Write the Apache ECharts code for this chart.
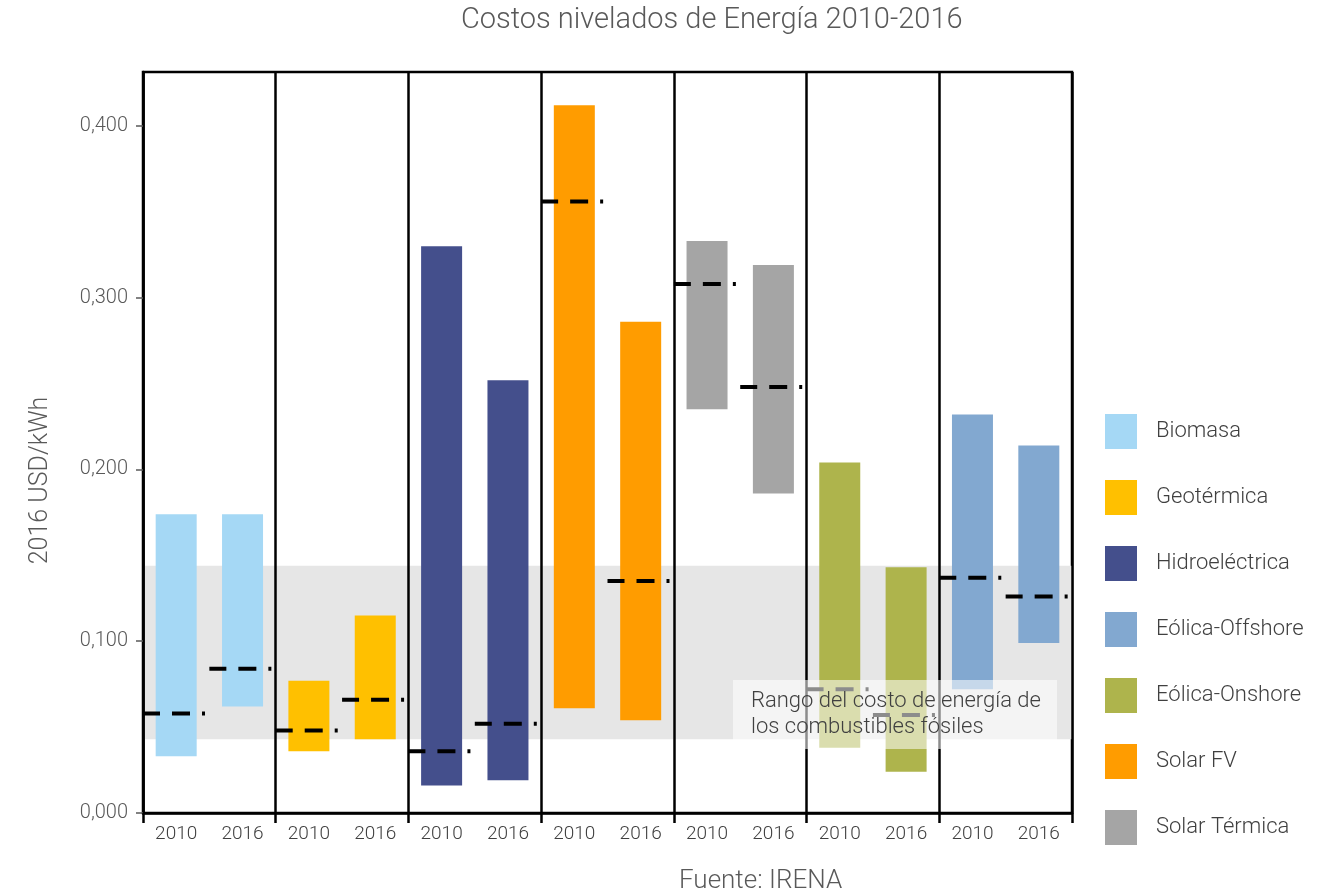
<!DOCTYPE html>
<html>
<head>
<meta charset="utf-8">
<title>Costos nivelados de Energía 2010-2016</title>
<script src="https://cdn.jsdelivr.net/npm/echarts@6/dist/echarts.min.js"></script>
<style>
  html, body { margin: 0; padding: 0; background: #fff; }
  #chart { width: 1334px; height: 895px; }
</style>
</head>
<body>
<div id="chart"></div>
<script>
// Years shown under each bar, two per technology
const categories = ['2010', '2016', '2010', '2016', '2010', '2016', '2010', '2016',
                    '2010', '2016', '2010', '2016', '2010', '2016'];

// Technology that owns each category slot
const categoryTech = ['Biomasa', 'Biomasa', 'Geotérmica', 'Geotérmica',
                      'Hidroeléctrica', 'Hidroeléctrica', 'Solar FV', 'Solar FV',
                      'Solar Térmica', 'Solar Térmica', 'Eólica-Onshore', 'Eólica-Onshore',
                      'Eólica-Offshore', 'Eólica-Offshore'];

// Cost range (USD/kWh) and weighted average per bar
const lowValues    = [0.033, 0.062, 0.036, 0.043, 0.016, 0.019, 0.061, 0.054,
                      0.235, 0.186, 0.038, 0.024, 0.072, 0.099];
const highValues   = [0.174, 0.174, 0.077, 0.115, 0.330, 0.252, 0.412, 0.286,
                      0.333, 0.319, 0.204, 0.143, 0.232, 0.214];
const medianValues = [0.058, 0.084, 0.048, 0.066, 0.036, 0.052, 0.356, 0.135,
                      0.308, 0.248, 0.072, 0.057, 0.137, 0.126];

// Fossil fuel cost range shown as the grey band
const fossilRange = [0.043, 0.144];

// Legend order and colours
const legendOrder = ['Biomasa', 'Geotérmica', 'Hidroeléctrica', 'Eólica-Offshore',
                     'Eólica-Onshore', 'Solar FV', 'Solar Térmica'];
const techColors = {
  'Biomasa': '#A5D8F5',
  'Geotérmica': '#FFC000',
  'Hidroeléctrica': '#444F8C',
  'Eólica-Offshore': '#82A8D0',
  'Eólica-Onshore': '#AEB44C',
  'Solar FV': '#FF9C00',
  'Solar Térmica': '#A5A5A5'
};

// Y axis tick labels
const yTickValues = [0, 0.1, 0.2, 0.3, 0.4];
const yTickLabels = ['0,000', '0,100', '0,200', '0,300', '0,400'];

const FONT = 'Roboto, "Noto Sans", sans-serif';
const chart = echarts.init(document.getElementById('chart'));

// Separator lines and ticks only at the edges of each technology group
function groupEdge(index) { return index % 2 === 0; }

const techSeries = legendOrder.map(function (tech) {
  return {
    name: tech,
    type: 'bar',
    stack: 'range',
    barWidth: 41,
    z: 2,
    itemStyle: { color: techColors[tech] },
    data: categories.map(function (c, i) {
      return categoryTech[i] === tech ? +(highValues[i] - lowValues[i]).toFixed(4) : '-';
    })
  };
});

const option = {
  backgroundColor: '#ffffff',
  animation: false,
  textStyle: { fontFamily: FONT },
  title: [
    {
      text: 'Costos nivelados de Energía 2010-2016',
      left: 456, top: 1,
      textStyle: { fontFamily: FONT, fontSize: 29, fontWeight: 300, color: '#595959' }
    },
    {
      text: 'Fuente: IRENA',
      left: 674, top: 863,
      textStyle: { fontFamily: FONT, fontSize: 26, fontWeight: 300, color: '#595959' }
    }
  ],
  legend: {
    orient: 'vertical',
    left: 1100, top: 409,
    icon: 'rect',
    itemWidth: 32, itemHeight: 35, itemGap: 31,
    data: legendOrder,
    selectedMode: false,
    textStyle: { fontFamily: FONT, fontSize: 22, fontWeight: 300, color: '#404040', padding: [0, 0, 0, 14] }
  },
  grid: {
    left: 143, right: 262, top: 72, bottom: 82,
    show: true, borderColor: '#000', borderWidth: 2.5, backgroundColor: 'transparent'
  },
  xAxis: {
    type: 'category',
    data: categories,
    z: 5,
    axisLine: { lineStyle: { color: '#000', width: 2.5 } },
    axisTick: { show: true, interval: groupEdge, length: 10, lineStyle: { color: '#000', width: 2.5 } },
    splitLine: { show: true, interval: groupEdge, lineStyle: { color: '#000', width: 2.5 } },
    axisLabel: { interval: 0, fontFamily: FONT, fontSize: 19, fontWeight: 300, color: '#404040', margin: 12 }
  },
  yAxis: {
    type: 'value',
    min: 0, max: 0.4314, interval: 0.1,
    z: 5,
    name: '2016 USD/kWh',
    nameLocation: 'middle',
    nameGap: 90,
    nameTextStyle: {
      fontFamily: FONT, fontSize: 25, fontWeight: 300, color: '#595959',
      padding: [0, 76, 0, 0]
    },
    axisLine: { show: true, lineStyle: { color: '#000', width: 2.5 } },
    axisTick: { show: true, length: 7, lineStyle: { color: '#595959', width: 1.5 } },
    splitLine: { show: false },
    axisLabel: {
      showMaxLabel: false,
      margin: 15,
      fontFamily: FONT, fontSize: 20, fontWeight: 300, color: '#595959',
      formatter: function (v) {
        const k = yTickValues.findIndex(function (t) { return Math.abs(t - v) < 1e-9; });
        return k >= 0 ? yTickLabels[k] : '';
      }
    }
  },
  series: [
    {
      name: 'base',
      type: 'bar',
      stack: 'range',
      barWidth: 41,
      silent: true,
      z: 1,
      itemStyle: { color: 'transparent' },
      data: lowValues,
      markArea: {
        silent: true,
        itemStyle: { color: '#E6E6E6' },
        data: [[{ yAxis: fossilRange[0] }, { yAxis: fossilRange[1] }]]
      }
    }
  ].concat(techSeries).concat([
    {
      name: 'media',
      type: 'custom',
      z: 3,
      silent: true,
      encode: { x: 0, y: 1 },
      data: medianValues.map(function (m, i) { return [i, m]; }),
      renderItem: function (params, api) {
        const p = api.coord([api.value(0), api.value(1)]);
        const w = api.size([1, 0])[0];
        return {
          type: 'line',
          shape: { x1: p[0] - w / 2, y1: p[1], x2: p[0] + w / 2, y2: p[1] },
          style: { stroke: '#000', lineWidth: 4, lineDash: [17, 12, 18, 12, 3, 200] }
        };
      }
    }
  ]),
  graphic: {
    elements: [
      {
        type: 'rect',
        z: 100,
        silent: true,
        shape: { x: 733, y: 680, width: 324, height: 69 },
        style: { fill: 'rgba(255,255,255,0.55)' }
      },
      {
        type: 'text',
        z: 101,
        silent: true,
        x: 751, y: 688,
        style: {
          text: 'Rango del costo de energía de\nlos combustibles fósiles',
          fontFamily: FONT,
          fontSize: 22,
          fontWeight: 300,
          lineHeight: 26,
          fill: '#404040'
        }
      }
    ]
  }
};

chart.setOption(option);
</script>
</body>
</html>
